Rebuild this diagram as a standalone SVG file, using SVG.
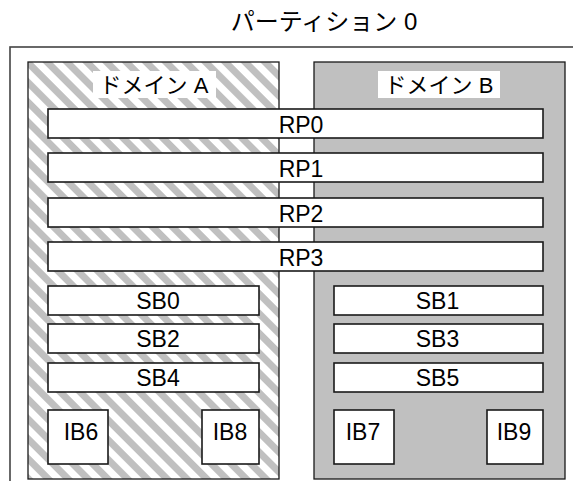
<svg xmlns="http://www.w3.org/2000/svg" width="573" height="481" viewBox="0 0 573 481">
<defs>
<pattern id="hatch" patternUnits="userSpaceOnUse" width="14" height="14" patternTransform="rotate(-45)">
<rect x="0" y="0" width="14" height="14" fill="#ffffff"/>
<rect x="0" y="0" width="7" height="14" fill="#c0c0c0"/>
</pattern>
</defs>
<style>
text{font-family:"Liberation Sans","Noto Sans CJK JP",sans-serif;fill:#000;text-anchor:middle}
.t{font-size:23px}
.title{font-size:24px}
.lbl{font-size:22px}
.box{fill:#fff;stroke:#1a1a1a;stroke-width:1.6}
.dom{stroke:#1a1a1a;stroke-width:1.3}
.lbg{fill:#fff}
</style>
<text class="title" x="324" y="30">パーティション 0</text>
<g id="partition0">
<rect x="10" y="47" width="600" height="460" fill="none" stroke="#444" stroke-width="1.6"/>
</g>
<g id="domainA">
<rect class="dom" x="28" y="62" width="251" height="417" fill="url(#hatch)"/>
<rect class="lbg" x="93" y="71" width="123" height="27"/>
<text class="lbl" x="154" y="93">ドメイン A</text>
</g>
<g id="domainB">
<rect class="dom" x="314" y="62" width="251" height="417" fill="#c0c0c0"/>
<rect class="lbg" x="378" y="71" width="122" height="27"/>
<text class="lbl" x="439" y="93">ドメイン B</text>
</g>
<g id="RP0"><rect class="box" x="48" y="109" width="495" height="29"/><text class="t" x="301" y="132.5">RP0</text></g>
<g id="RP1"><rect class="box" x="48" y="153" width="495" height="29"/><text class="t" x="301" y="176.5">RP1</text></g>
<g id="RP2"><rect class="box" x="48" y="198" width="495" height="29"/><text class="t" x="301" y="221.5">RP2</text></g>
<g id="RP3"><rect class="box" x="48" y="242" width="495" height="29"/><text class="t" x="301" y="265.5">RP3</text></g>
<g id="SB0"><rect class="box" x="48" y="286" width="211" height="29"/><text class="t" x="158" y="308.5">SB0</text></g>
<g id="SB2"><rect class="box" x="48" y="324" width="211" height="29"/><text class="t" x="158" y="346.5">SB2</text></g>
<g id="SB4"><rect class="box" x="48" y="363" width="211" height="29"/><text class="t" x="158" y="385.5">SB4</text></g>
<g id="SB1"><rect class="box" x="334" y="286" width="209" height="29"/><text class="t" x="437.5" y="308.5">SB1</text></g>
<g id="SB3"><rect class="box" x="334" y="324" width="209" height="29"/><text class="t" x="437.5" y="346.5">SB3</text></g>
<g id="SB5"><rect class="box" x="334" y="363" width="209" height="29"/><text class="t" x="437.5" y="385.5">SB5</text></g>
<g id="IB6"><rect class="box" x="48" y="410" width="60" height="54"/><text class="t" x="81" y="440">IB6</text></g>
<g id="IB8"><rect class="box" x="202" y="410" width="57" height="54"/><text class="t" x="230" y="440">IB8</text></g>
<g id="IB7"><rect class="box" x="334" y="410" width="60" height="54"/><text class="t" x="363" y="440">IB7</text></g>
<g id="IB9"><rect class="box" x="487" y="410" width="56" height="54"/><text class="t" x="514" y="440">IB9</text></g>
</svg>
